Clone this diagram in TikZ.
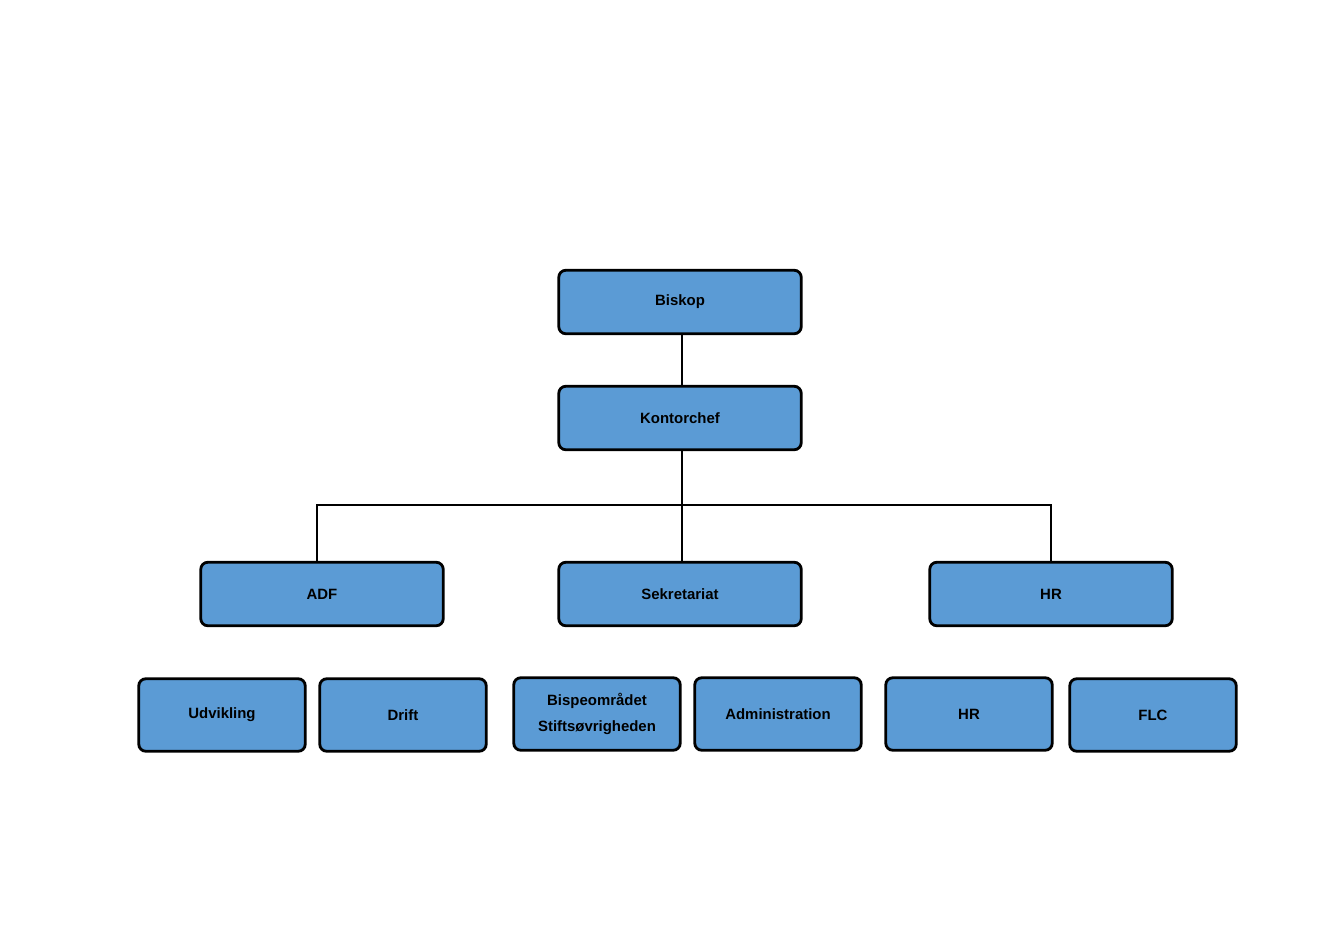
\documentclass[tikz,border=0pt]{standalone}
\usepackage{fontspec}
\setmainfont{Liberation Sans}
\usetikzlibrary{positioning}
\definecolor{boxblue}{HTML}{5B9BD5}
\tikzset{
  unit/.style={draw, line width=1.6pt, rounded corners=4pt, fill=boxblue,
    minimum width=4.85cm, minimum height=1.27cm, font=\fontsize{8.5}{10}\selectfont\bfseries, align=center},
  sub/.style={unit, minimum width=3.33cm, minimum height=1.45cm},
  link/.style={line width=1.4pt}
}
\begin{document}
\begin{tikzpicture}[x=0.02cm, y=-0.02cm]
				\useasboundingbox (0,0) rectangle (1343,950);
				\node[unit] (biskop) at (680, 302) {Biskop};
				\node[unit] (kontor) at (680, 418) {Kontorchef};
				\node[unit] (adf) at (322, 594) {ADF};
				\node[unit] (sekr) at (680, 594) {Sekretariat};
				\node[unit] (hr) at (1051, 594) {HR};
				\node[sub] (udv) at (222, 715) {Udvikling};
				\node[sub] (drift) at (403, 715) {Drift};
				\node[sub] (bispe) at (597, 714) {Bispeområdet\\[5pt]Stiftsøvrigheden};
				\node[sub] (admin) at (778, 714) {Administration};
				\node[sub] (hrsub) at (969, 714) {HR};
				\node[sub] (flc) at (1153, 715) {FLC};
				\coordinate (split) at (682, 505);
				\draw[link] (biskop.south -| split) -- (kontor.north -| split);
				\draw[link] (kontor.south -| split) -- (sekr.north -| split);
				\draw[link] (adf.north -| 317,0) |- (split) -| (hr.north -| 1051,0);
				\end{tikzpicture}
\end{document}
